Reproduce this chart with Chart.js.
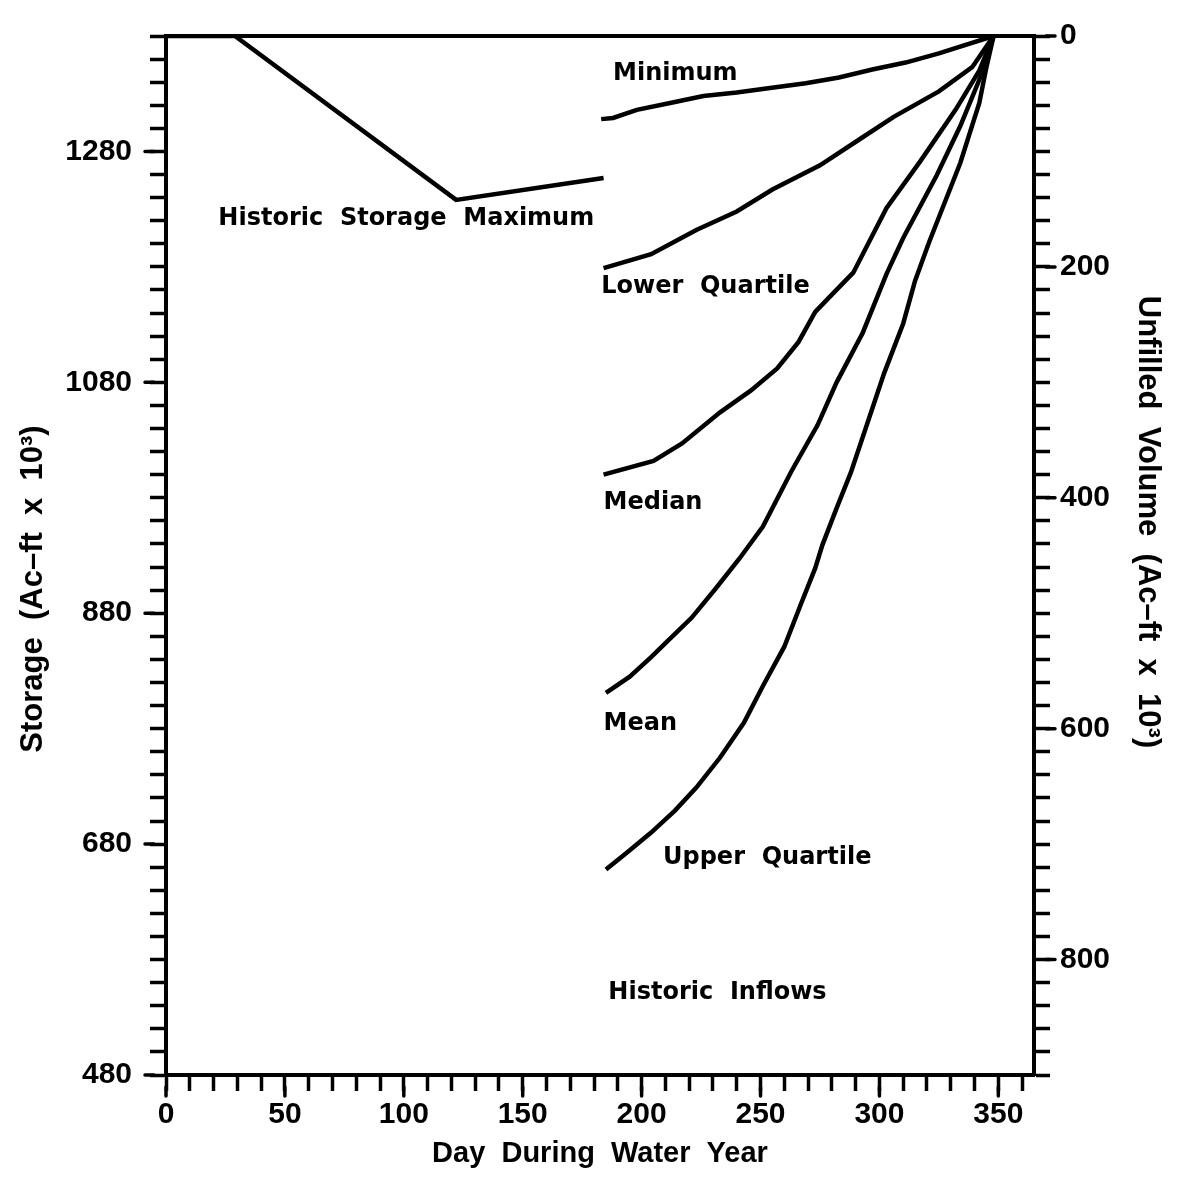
<!DOCTYPE html>
<html>
<head>
<meta charset="utf-8">
<script src="https://cdn.jsdelivr.net/npm/chart.js@4.4.1/dist/chart.umd.min.js"></script>
<style>
  html, body { margin: 0; padding: 0; background: #fff; }
  #wrap { width: 1186px; height: 1177px; }
</style>
</head>
<body>
<div id="wrap"><canvas id="storageChart" width="1186" height="1177"></canvas></div>
<script>
// storage in 1000 ac-ft, x = day of the water year
const histMaxDays = [0, 29, 122, 184];
const histMaxStorage = [1380, 1380, 1238, 1257];

const minimumDays = [183, 188, 198, 212, 226, 240, 254, 269, 283, 297, 311, 325, 348];
const minimumStorage = [1308, 1309, 1316, 1322, 1328, 1331, 1335, 1339, 1344, 1351, 1357, 1365, 1380];

const lowerQDays = [184, 204, 223, 240, 255, 275, 292, 306, 325, 339, 348];
const lowerQStorage = [1179, 1191, 1212, 1228, 1247, 1268, 1291, 1310, 1332, 1353, 1380];

const medianDays = [184, 205, 217, 233, 246, 257, 266, 273, 280, 289, 296, 303, 317, 332, 342, 348];
const medianStorage = [1000, 1012, 1027, 1054, 1073, 1092, 1115, 1141, 1156, 1175, 1203, 1231, 1271, 1316, 1350, 1380];

const meanDays = [185, 195, 204, 211, 221, 231, 241, 251, 263, 274, 282, 293, 303, 310, 324, 334, 343, 348];
const meanStorage = [811, 825, 842, 856, 876, 901, 927, 955, 1003, 1043, 1080, 1123, 1174, 1205, 1259, 1302, 1347, 1380];

const upperQDays = [185, 194, 204, 214, 223, 233, 243, 251, 260, 267, 273, 276, 282, 288, 295, 302, 310, 315, 321, 334, 342, 345, 348];
const upperQStorage = [658, 673, 690, 709, 729, 755, 785, 817, 851, 888, 919, 939, 971, 1002, 1045, 1088, 1131, 1168, 1202, 1270, 1322, 1353, 1380];

// text written inside the plot, anchored at (day, storage)
const noteTexts = ['Minimum', 'Historic  Storage  Maximum', 'Lower  Quartile', 'Median', 'Mean', 'Upper  Quartile', 'Historic  Inflows'];
const noteDays = [188, 22, 183, 184, 184, 209, 186];
const noteStorage = [1347, 1222, 1163, 976, 784, 668, 551];

const storageMin = 480;
const storageMax = 1380;
const dayMax = 365;

function pts(days, vals) {
  return days.map((d, i) => ({ x: d, y: vals[i] }));
}

const tickFont = { family: 'Liberation Sans', size: 30, weight: 'bold' };
const titleCss = 'bold 31px "Liberation Sans"';

const series = [
  pts(histMaxDays, histMaxStorage),
  pts(minimumDays, minimumStorage),
  pts(lowerQDays, lowerQStorage),
  pts(medianDays, medianStorage),
  pts(meanDays, meanStorage),
  pts(upperQDays, upperQStorage)
];

// longer marks for the labelled ticks
const majorTicks = {
  id: 'majorTicks',
  afterDraw(chart) {
    const { ctx, chartArea: a, scales } = chart;
    ctx.save();
    ctx.strokeStyle = '#000';
    ctx.lineWidth = 3.5;
    ctx.lineCap = 'round';
    ctx.beginPath();
    scales.x.ticks.forEach(t => {
      if (t.value % 50 === 0) {
        const p = scales.x.getPixelForValue(t.value);
        ctx.moveTo(p, a.bottom + 12);
        ctx.lineTo(p, a.bottom + 21);
      }
    });
    scales.y.ticks.forEach(t => {
      if ((t.value - storageMin) % 200 === 0) {
        const p = scales.y.getPixelForValue(t.value);
        ctx.moveTo(a.left - 12, p);
        ctx.lineTo(a.left - 21, p);
      }
    });
    scales.y2.ticks.forEach(t => {
      if (t.value % 200 === 0) {
        const p = scales.y2.getPixelForValue(t.value);
        ctx.moveTo(a.right + 12, p);
        ctx.lineTo(a.right + 21, p);
      }
    });
    ctx.stroke();
    ctx.restore();
  }
};

const notes = {
  id: 'notes',
  afterDatasetsDraw(chart) {
    const { ctx, scales: { x, y } } = chart;
    ctx.save();
    ctx.fillStyle = '#000';
    ctx.font = 'bold 24px "DejaVu Sans"';
    ctx.textAlign = 'left';
    ctx.textBaseline = 'middle';
    noteTexts.forEach((t, i) => {
      ctx.fillText(t, x.getPixelForValue(noteDays[i]), y.getPixelForValue(noteStorage[i]));
    });
    ctx.restore();
  }
};

const sideTitles = {
  id: 'sideTitles',
  afterDraw(chart) {
    const { ctx, chartArea: a } = chart;
    ctx.save();
    ctx.fillStyle = '#000';
    ctx.font = titleCss;
    ctx.textAlign = 'center';
    ctx.textBaseline = 'middle';
    ctx.translate(33, a.top + 553);
    ctx.rotate(-Math.PI / 2);
    ctx.fillText('Storage  (Ac\u2013ft  x  10\u00b3)', 0, 0);
    ctx.restore();
    ctx.save();
    ctx.fillStyle = '#000';
    ctx.font = titleCss;
    ctx.textAlign = 'center';
    ctx.textBaseline = 'middle';
    ctx.translate(1148, a.top + 486);
    ctx.rotate(Math.PI / 2);
    ctx.fillText('Unfilled  Volume  (Ac\u2013ft  x  10\u00b3)', 0, 0);
    ctx.restore();
  }
};

const axisGrid = { drawOnChartArea: false, tickLength: 16, tickWidth: 3.5, tickColor: '#000' };
const axisBorder = { display: true, width: 4, color: '#000' };

const ctx = document.getElementById('storageChart').getContext('2d');

new Chart(ctx, {
  type: 'line',
  data: {
    datasets: series.map(s => ({
      data: s,
      borderColor: '#000',
      borderWidth: 4.5,
      pointRadius: 0,
      tension: 0,
      fill: false
    }))
  },
  options: {
    responsive: false,
    animation: false,
    devicePixelRatio: 1,
    layout: { padding: { top: 29, left: 0, right: 0, bottom: 0 } },
    plugins: {
      legend: { display: false },
      tooltip: { enabled: false }
    },
    scales: {
      x: {
        type: 'linear',
        position: 'bottom',
        min: 0,
        max: dayMax,
        ticks: {
          stepSize: 10,
          includeBounds: false,
          autoSkip: false,
          maxRotation: 0,
          minRotation: 0,
          padding: 6,
          color: '#000',
          font: tickFont,
          callback: v => (v % 50 === 0 ? String(v) : '')
        },
        grid: axisGrid,
        border: axisBorder,
        title: {
          display: true,
          text: 'Day  During  Water  Year',
          color: '#000',
          font: { family: 'Liberation Sans', size: 29, weight: 'bold' },
          padding: { top: 0, bottom: 6 }
        },
        afterFit: s => { s.height = 102; }
      },
      xTop: {
        type: 'linear',
        position: 'top',
        min: 0,
        max: dayMax,
        ticks: { display: false },
        grid: { drawOnChartArea: false, drawTicks: false },
        border: axisBorder,
        afterFit: s => { s.height = 0; }
      },
      y: {
        type: 'linear',
        position: 'left',
        min: storageMin,
        max: storageMax,
        ticks: {
          stepSize: 20,
          autoSkip: false,
          padding: 18,
          color: '#000',
          font: tickFont,
          callback: v => ((v - storageMin) % 200 === 0 ? String(v) : '')
        },
        grid: axisGrid,
        border: axisBorder,
        afterFit: s => { s.width = 166; }
      },
      y2: {
        type: 'linear',
        position: 'right',
        min: 0,
        max: storageMax - storageMin,
        reverse: true,
        ticks: {
          stepSize: 20,
          autoSkip: false,
          padding: 10,
          color: '#000',
          font: tickFont,
          callback: v => (v % 200 === 0 ? String(v) : '')
        },
        grid: axisGrid,
        border: axisBorder,
        afterFit: s => { s.width = 152; }
      }
    }
  },
  plugins: [notes, majorTicks, sideTitles]
});
</script>
</body>
</html>
